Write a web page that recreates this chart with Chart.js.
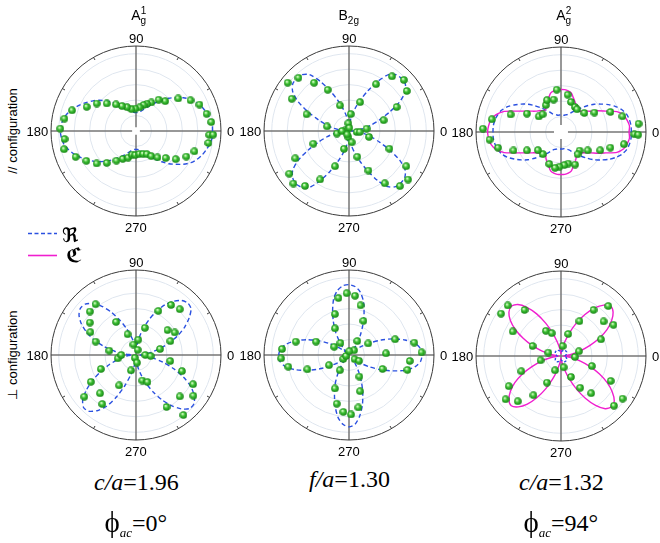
<!DOCTYPE html>
<html>
<head>
<meta charset="utf-8">
<script src="https://cdn.jsdelivr.net/npm/chart.js@4.4.1/dist/chart.umd.min.js"></script>
<style>
html,body{margin:0;padding:0;background:#fff;}
#wrap{position:relative;width:660px;height:543px;overflow:hidden;background:#fff;}
#wrap canvas{position:absolute;}
.t{position:absolute;white-space:nowrap;color:#000;}
.sans{font-family:"Liberation Sans",Arial,sans-serif;}
.ang{font-size:13px;line-height:13px;}
.ttl{font-size:14px;line-height:14px;}
.s{position:relative;font-size:10px;}
.serif{font-family:"Liberation Serif","Times New Roman",serif;font-size:24px;line-height:24px;}
.sub{position:relative;font-size:13px;top:6px;}
.phi{font-size:29px;position:relative;top:1px;}
.side{font-size:13px;line-height:13px;transform:translate(-50%,-50%) rotate(-90deg);}
.frak{font-family:"DejaVu Serif","DejaVu Sans",serif;font-size:20px;line-height:20px;font-weight:bold;}
</style>
</head>
<body>
<div id="wrap"></div>
<script>
// ---------- data ----------
const rMax = 1.1;
const gridRadii = [0.2, 0.4, 0.6, 0.8, 1.0];
const angleTickLabels = ['0', '90', '180', '270'];
const curveAngles = Array.from({length: 72}, (_, i) => i * 5);

// fitted curves (intensity at 0,5,...,355 deg)
const c1Re = [0.99,0.99,0.97,0.94,0.91,0.87,0.82,0.75,0.67,0.60,0.52,0.45,0.39,0.34,0.30,0.27,0.25,0.24,0.24,0.24,0.25,0.27,0.30,0.34,0.38,0.43,0.49,0.55,0.62,0.68,0.74,0.80,0.86,0.91,0.95,0.97,0.98,0.97,0.95,0.91,0.86,0.80,0.74,0.68,0.62,0.55,0.49,0.43,0.38,0.34,0.30,0.27,0.25,0.24,0.24,0.24,0.25,0.27,0.30,0.34,0.39,0.45,0.52,0.60,0.67,0.75,0.82,0.87,0.91,0.94,0.97,0.99];
const c2Re = [0.03,0.10,0.20,0.30,0.42,0.58,0.76,0.89,0.95,0.96,0.95,0.89,0.74,0.57,0.42,0.30,0.20,0.10,0.03,0.10,0.20,0.30,0.42,0.57,0.74,0.89,0.95,0.96,0.95,0.89,0.76,0.58,0.42,0.30,0.20,0.10,0.03,0.10,0.20,0.30,0.42,0.58,0.76,0.89,0.95,0.97,0.95,0.89,0.74,0.57,0.42,0.30,0.20,0.10,0.03,0.10,0.20,0.30,0.42,0.57,0.74,0.88,0.94,0.95,0.94,0.89,0.76,0.58,0.42,0.30,0.20,0.10];
const c3Re = [0.91,0.91,0.90,0.88,0.84,0.78,0.71,0.63,0.56,0.48,0.41,0.35,0.30,0.26,0.24,0.23,0.22,0.22,0.22,0.22,0.22,0.23,0.24,0.26,0.30,0.35,0.41,0.48,0.56,0.63,0.70,0.77,0.82,0.85,0.87,0.88,0.88,0.88,0.87,0.85,0.82,0.77,0.70,0.63,0.56,0.48,0.41,0.35,0.30,0.26,0.24,0.23,0.22,0.22,0.22,0.22,0.22,0.23,0.24,0.26,0.30,0.35,0.41,0.48,0.56,0.63,0.71,0.78,0.84,0.88,0.90,0.91];
const c3Ce = [0.88,0.89,0.87,0.84,0.77,0.64,0.55,0.47,0.42,0.38,0.35,0.35,0.39,0.43,0.47,0.52,0.54,0.55,0.55,0.55,0.54,0.52,0.47,0.43,0.39,0.35,0.36,0.39,0.42,0.47,0.54,0.64,0.78,0.87,0.92,0.94,0.95,0.94,0.92,0.87,0.78,0.64,0.54,0.47,0.42,0.39,0.36,0.35,0.39,0.43,0.47,0.52,0.54,0.55,0.55,0.55,0.54,0.52,0.47,0.43,0.39,0.35,0.35,0.38,0.42,0.47,0.55,0.64,0.77,0.84,0.87,0.89];
const c4Re = [0.05,0.10,0.20,0.32,0.46,0.60,0.73,0.84,0.93,0.95,0.92,0.85,0.75,0.62,0.48,0.35,0.22,0.12,0.05,0.10,0.17,0.26,0.37,0.50,0.64,0.77,0.87,0.93,0.94,0.90,0.82,0.71,0.58,0.43,0.28,0.14,0.05,0.10,0.17,0.26,0.37,0.50,0.64,0.78,0.90,0.96,0.95,0.88,0.77,0.60,0.42,0.27,0.16,0.09,0.05,0.10,0.18,0.28,0.40,0.53,0.67,0.80,0.91,0.98,0.98,0.92,0.82,0.68,0.52,0.36,0.22,0.11];
const c5Re = [0.95,0.93,0.87,0.75,0.61,0.46,0.31,0.19,0.10,0.06,0.10,0.18,0.29,0.42,0.57,0.72,0.83,0.89,0.91,0.90,0.85,0.76,0.62,0.48,0.35,0.22,0.12,0.06,0.10,0.18,0.30,0.44,0.58,0.71,0.82,0.89,0.91,0.90,0.84,0.73,0.58,0.43,0.29,0.17,0.09,0.06,0.10,0.18,0.30,0.43,0.55,0.69,0.82,0.90,0.93,0.90,0.80,0.67,0.52,0.38,0.25,0.15,0.08,0.06,0.10,0.19,0.31,0.45,0.60,0.76,0.87,0.93];
const c6Re = [0.05,0.055,0.06,0.07,0.075,0.08,0.085,0.09,0.09,0.09,0.09,0.09,0.085,0.08,0.075,0.07,0.06,0.055,0.05,0.055,0.06,0.07,0.075,0.08,0.085,0.09,0.09,0.09,0.09,0.09,0.085,0.08,0.075,0.07,0.06,0.055,0.05,0.055,0.06,0.07,0.075,0.08,0.085,0.09,0.09,0.09,0.09,0.09,0.085,0.08,0.075,0.07,0.06,0.055,0.05,0.055,0.06,0.07,0.075,0.08,0.085,0.09,0.09,0.09,0.09,0.09,0.085,0.08,0.075,0.07,0.06,0.055];
const c6Ce = [0.03,0.07,0.15,0.26,0.40,0.55,0.69,0.80,0.88,0.91,0.86,0.76,0.62,0.47,0.32,0.19,0.10,0.05,0.03,0.05,0.10,0.19,0.32,0.47,0.63,0.77,0.87,0.91,0.88,0.80,0.68,0.54,0.40,0.26,0.15,0.07,0.03,0.07,0.15,0.26,0.40,0.55,0.69,0.80,0.88,0.91,0.86,0.76,0.62,0.47,0.32,0.19,0.10,0.05,0.03,0.05,0.10,0.19,0.32,0.47,0.63,0.78,0.89,0.93,0.90,0.81,0.69,0.55,0.40,0.26,0.15,0.07];

// measured points (angle deg, normalised intensity)
const p1Ang = [6.8,13.7,22.6,29.4,37.6,45.6,54.1,61.6,68.1,73.8,81.3,91.7,101.8,110.6,119.2,126.9,136.7,145,153.9,162.1,170.2,178.2,186.4,194.2,203.2,211,219.5,227.5,236.5,244.5,253.3,260.4,268.4,278.4,287.2,295,301.2,309.1,317.7,324.7,333,340.8,350.6,357,357.3];
const p1Int = [0.98,0.94,0.89,0.81,0.69,0.54,0.50,0.42,0.38,0.35,0.31,0.29,0.29,0.33,0.37,0.43,0.52,0.62,0.71,0.87,0.94,0.98,0.93,0.96,0.85,0.75,0.66,0.56,0.46,0.40,0.36,0.31,0.31,0.30,0.31,0.33,0.38,0.44,0.52,0.63,0.73,0.80,0.95,0.95,1.00];
const p2Ang = [84,69,60,51.8,43,34.7,26.7,17.3,7.5,352.6,109.3,117.3,125.9,133.5,141.8,150.6,158.5,168.2,192,95,199.6,207,215.6,223.4,231.3,239.2,248.4,254.2,264,287.8,296.2,304.4,312.7,320.6,328.4,336.3,343.6,283.6,170,180,84,355,243];
const p2Int = [0.22,0.40,0.70,0.90,0.97,0.91,0.69,0.47,0.23,0.10,0.35,0.60,0.77,0.95,1.01,0.85,0.59,0.29,0.16,0.10,0.49,0.78,0.95,0.99,0.91,0.73,0.49,0.24,0.08,0.35,0.57,0.82,0.97,0.99,0.87,0.57,0.27,0.15,0.05,0.09,0.04,0.14,0.05];
const p3Ang = [177.6,169.6,186.1,194,160.8,151.7,144.9,136,119.4,113.8,102.8,95.8,79.9,71.6,60.8,54.8,39.2,30.1,22.1,14.3,6.1,358.2,358,349,342.4,335,325.5,315,306.7,293.4,283,275.7,267.3,260.5,249.8,230.6,218.2,208.3,201.2];
const p3Int = [1.01,0.91,0.93,0.84,0.69,0.50,0.35,0.33,0.40,0.45,0.43,0.55,0.49,0.41,0.37,0.36,0.39,0.50,0.69,0.82,1.01,0.95,1.00,0.83,0.67,0.56,0.42,0.34,0.36,0.46,0.42,0.43,0.45,0.47,0.44,0.37,0.38,0.50,0.66];
const p4Ang = [128.5,136.7,121,144.9,153.4,112,161.7,104,81.5,71.8,63.1,55,46.3,38.3,30.2,22,13.9,170.8,190.3,180,0,356,249,277,252,201.8,210.7,241,226.8,218.9,235.5,350,340.7,332.9,324.6,316.6,283.9,293,300.4,308.3,71.6];
const p4Int = [0.84,0.82,0.50,0.73,0.66,0.29,0.55,0.14,0.20,0.37,0.64,0.79,0.82,0.52,0.58,0.48,0.32,0.35,0.24,0.19,0.12,0.19,0.04,0.10,0.21,0.49,0.68,0.45,0.68,0.86,0.77,0.45,0.63,0.83,0.91,0.78,0.34,0.38,0.78,0.99,0.07];
const p5Ang = [100.5,92.2,84.2,76.9,109,67.1,117.7,125.5,59.2,151,43,165.9,158,174.9,182.8,190.9,199,207,215,198,323,330,31,18.8,10.7,2.1,2.6,354.4,345.7,337.4,239,295.5,247.2,287,255.9,280.1,264.3,272,85];
const p5Int = [0.75,0.80,0.77,0.66,0.56,0.48,0.39,0.19,0.21,0.22,0.09,0.71,0.46,0.87,0.88,0.80,0.57,0.29,0.09,0.04,0.09,0.15,0.29,0.63,0.86,0.94,0.48,0.79,0.78,0.47,0.23,0.31,0.47,0.49,0.65,0.69,0.74,0.77,0.05];
const p6Ang = [136.5,144.8,128.4,153,121,112,160.6,191.8,165,247.3,201,210,242.3,234.9,218,226.3,46.6,54.8,39.1,30.7,62.1,22.6,71.8,80.5,14.8,356,342,295.5,283.6,333.4,301.1,309,325.3,316.8];
const p6Int = [0.95,0.95,0.76,0.70,0.38,0.32,0.39,0.27,0.17,0.20,0.55,0.78,0.39,0.62,0.91,0.81,0.89,0.73,0.71,0.79,0.51,0.56,0.30,0.13,0.24,0.18,0.42,0.30,0.15,0.72,0.48,0.62,0.97,0.94];

// texts
const titles = [
  'A<span class="s" style="top:-6px">1</span><span class="s" style="top:4px;margin-left:-5.6px">g</span>',
  'B<span class="s" style="top:4px">2g</span>',
  'A<span class="s" style="top:-6px">2</span><span class="s" style="top:4px;margin-left:-5.6px">g</span>'
];
const ratioLabels = ['<i>c/a</i>=1.96', '<i>f/a</i>=1.30', '<i>c/a</i>=1.32'];
const phaseLabels = ['<span class="phi">\u03D5</span><span class="sub"><i>ac</i></span>=0°', '', '<span class="phi">\u03D5</span><span class="sub"><i>ac</i></span>=94°'];
const rowLabels = ['// configuration', '\u22A5 configuration'];
const legendLabels = ['\u211C', '\u212D'];

// ---------- drawing ----------
const BLUE = '#2a50e0', PINK = '#f01ecf';
const wrap = document.getElementById('wrap');

function makeBall(d) {
  const c = document.createElement('canvas'); c.width = d; c.height = d;
  const g = c.getContext('2d'); const r = d / 2;
  const grd = g.createRadialGradient(r * 0.75, r * 0.7, r * 0.1, r, r, r);
  grd.addColorStop(0, '#dfffcf'); grd.addColorStop(0.4, '#3ec234'); grd.addColorStop(1, '#127e12');
  g.fillStyle = grd; g.beginPath(); g.arc(r, r, r - 0.2, 0, Math.PI * 2); g.fill();
  return c;
}
const ball = makeBall(8);

function toXY(angles, values) {
  return angles.map((a, i) => ({x: values[i] * Math.cos(a * Math.PI / 180), y: values[i] * Math.sin(a * Math.PI / 180)}));
}

const polarGrid = {
  id: 'polarGrid',
  beforeDatasetsDraw(chart, args, opts) {
    const {ctx} = chart; const xs = chart.scales.x, ys = chart.scales.y;
    const cx = xs.getPixelForValue(0), cy = ys.getPixelForValue(0);
    const u = xs.getPixelForValue(1) - cx; const R = rMax * u;
    ctx.save();
    ctx.lineWidth = 1; ctx.strokeStyle = '#dfe6ef';
    gridRadii.forEach(r => { ctx.beginPath(); ctx.arc(cx, cy, r * u, 0, Math.PI * 2); ctx.stroke(); });
    const g = (opts.gap || 0) * u;
    ctx.strokeStyle = '#777'; ctx.lineWidth = 1.5;
    ctx.beginPath();
    ctx.moveTo(cx - R, cy); ctx.lineTo(cx - g, cy); ctx.moveTo(cx + g, cy); ctx.lineTo(cx + R, cy);
    ctx.moveTo(cx, cy - R); ctx.lineTo(cx, cy - g); ctx.moveTo(cx, cy + g); ctx.lineTo(cx, cy + R);
    ctx.stroke();
    ctx.strokeStyle = '#3a3a3a'; ctx.lineWidth = 1;
    ctx.beginPath(); ctx.arc(cx, cy, R, 0, Math.PI * 2); ctx.stroke();
    for (let a = 30; a < 360; a += 30) {
      if (a % 90 === 0) continue;
      const t = a * Math.PI / 180;
      ctx.beginPath(); ctx.moveTo(cx + R * Math.cos(t), cy - R * Math.sin(t));
      ctx.lineTo(cx + (R - 3) * Math.cos(t), cy - (R - 3) * Math.sin(t)); ctx.stroke();
    }
    ctx.restore();
  }
};

function addText(html, cls, left, top, align) {
  const d = document.createElement('div'); d.className = 't ' + cls; d.innerHTML = html;
  wrap.appendChild(d);
  const w = d.offsetWidth;
  let l = left;
  if (align === 'c') l = left - w / 2; else if (align === 'r') l = left - w;
  d.style.left = l + 'px'; d.style.top = top + 'px';
  return d;
}

const plotDefs = [
  {cx: 136, cy: 131, gap: 0.05, ang: p1Ang, val: p1Int, curves: [{v: c1Re, k: 're'}]},
  {cx: 349, cy: 131, gap: 0, ang: p2Ang, val: p2Int, curves: [{v: c2Re, k: 're'}]},
  {cx: 561, cy: 132, gap: 0.09, ang: p3Ang, val: p3Int, curves: [{v: c3Re, k: 're', o: 2}, {v: c3Ce, k: 'ce', o: 1}]},
  {cx: 136, cy: 355, gap: 0, ang: p4Ang, val: p4Int, curves: [{v: c4Re, k: 're'}]},
  {cx: 349, cy: 355, gap: 0, ang: p5Ang, val: p5Int, curves: [{v: c5Re, k: 're'}]},
  {cx: 561, cy: 356, gap: 0, ang: p6Ang, val: p6Int, curves: [{v: c6Re, k: 're', o: 1, dash: [2.5, 1.8]}, {v: c6Ce, k: 'ce', o: 2}]}
];

const S = 190, PAD = 10;
plotDefs.forEach((p, idx) => {
  const left = p.cx - S / 2, top = p.cy - S / 2;
  const cv = document.createElement('canvas');
  cv.width = S; cv.height = S;
  cv.style.left = left + 'px'; cv.style.top = top + 'px';
  cv.style.width = S + 'px'; cv.style.height = S + 'px';
  wrap.appendChild(cv);
  const datasets = [{label: 'data', data: toXY(p.ang, p.val), pointStyle: ball, pointRadius: 4, showLine: false, order: 0}];
  p.curves.forEach(c => {
    const pts = toXY(curveAngles, c.v); pts.push({x: pts[0].x, y: pts[0].y});
    datasets.push({
      label: c.k, data: pts, showLine: true, pointRadius: 0, fill: false,
      borderColor: c.k === 're' ? BLUE : PINK,
      borderDash: c.k === 're' ? (c.dash || [4.5, 3]) : [],
      borderWidth: 1.4, tension: 0.25, order: c.o || 1
    });
  });
  const chart = new Chart(cv, {
    type: 'scatter',
    data: {datasets},
    options: {
      responsive: false, animation: false, events: [],
      layout: {padding: PAD},
      plugins: {legend: {display: false}, tooltip: {enabled: false}, polarGrid: {gap: p.gap}},
      scales: {
        x: {type: 'linear', min: -rMax, max: rMax, display: false},
        y: {type: 'linear', min: -rMax, max: rMax, display: false}
      }
    },
    plugins: [polarGrid]
  });
  const xs = chart.scales.x, ys = chart.scales.y;
  const CX = left + xs.getPixelForValue(0), CY = top + ys.getPixelForValue(0);
  const L = left + xs.getPixelForValue(-rMax), R = left + xs.getPixelForValue(rMax);
  const T = top + ys.getPixelForValue(rMax), B = top + ys.getPixelForValue(-rMax);
  addText(angleTickLabels[0], 'sans ang', R + 6, CY - 6.4, 'l');
  addText(angleTickLabels[1], 'sans ang', CX, T - 14, 'c');
  addText(angleTickLabels[2], 'sans ang', L - 2.5, CY - 6.4, 'r');
  addText(angleTickLabels[3], 'sans ang', CX, B + 4.5, 'c');
  const col = idx % 3, row = Math.floor(idx / 3);
  if (row === 0) {
    const shift = col === 1 ? -10.5 : -4.7;
    addText(titles[col], 'sans ttl', CX + shift, 8, 'l');
  } else {
    addText(ratioLabels[col], 'serif', CX + 0.5, (col === 1 ? 467 : 470), 'c');
    if (phaseLabels[col]) addText(phaseLabels[col], 'serif', CX, 509, 'c');
  }
  if (col === 0) {
    const d = document.createElement('div'); d.className = 't sans side'; d.textContent = rowLabels[row];
    d.style.left = '12px'; d.style.top = CY + 'px'; wrap.appendChild(d);
  }
});

// legend
const svgNS = 'http://www.w3.org/2000/svg';
const svg = document.createElementNS(svgNS, 'svg');
svg.setAttribute('width', '660'); svg.setAttribute('height', '543');
svg.style.position = 'absolute'; svg.style.left = '0'; svg.style.top = '0';
function seg(y, color, dash) {
  const l = document.createElementNS(svgNS, 'line');
  l.setAttribute('x1', '28'); l.setAttribute('x2', '57'); l.setAttribute('y1', y); l.setAttribute('y2', y);
  l.setAttribute('stroke', color); l.setAttribute('stroke-width', '1.6');
  if (dash) l.setAttribute('stroke-dasharray', dash);
  svg.appendChild(l);
}
seg(233.5, BLUE, '4 2.5');
seg(255.5, PINK, null);
wrap.appendChild(svg);
addText(legendLabels[0], 'frak', 62, 224.5, 'l');
addText(legendLabels[1], 'frak', 66, 244.5, 'l');
</script>
</body>
</html>
